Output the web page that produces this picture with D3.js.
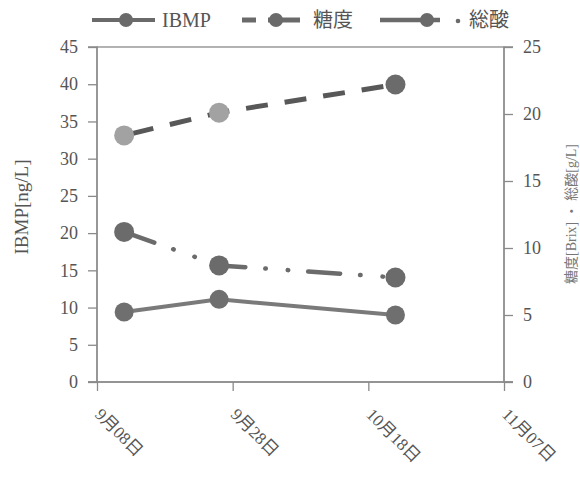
<!DOCTYPE html>
<html><head><meta charset="utf-8">
<script src="https://cdn.jsdelivr.net/npm/d3@7"></script>
<style>body{margin:0;background:#fff}</style>
</head><body>
<script>
const dates = ["2023-09-12","2023-09-26","2023-10-22"];
const ibmp = [9.4, 11.1, 9.0];
const brix = [18.4, 20.1, 22.2];
const acid = [11.2, 8.7, 7.8];
const xTicks = ["2023-09-08","2023-09-28","2023-10-18","2023-11-07"];
const xTickLabels = ["9月08日","9月28日","10月18日","11月07日"];
const leftTicks = [0,5,10,15,20,25,30,35,40,45];
const rightTicks = [0,5,10,15,20,25];
const seriesNames = ["IBMP","糖度","総酸"];

const W=580,H=488;
const svg=d3.select("body").append("svg").attr("width",W).attr("height",H);
const L=97,R=504,T=47,B=382;
const parse=d3.timeParse("%Y-%m-%d");
const x=d3.scaleTime().domain([parse(xTicks[0]),parse(xTicks[3])]).range([L,R]);
const yL=d3.scaleLinear().domain([0,45]).range([B,T]);
const yR=d3.scaleLinear().domain([0,25]).range([B,T]);
const serif="'Liberation Serif','DejaVu Serif','Noto Sans CJK JP',serif";
const axisCol="#8a8a8a", txtCol="#555";

svg.append("rect").attr("x",L).attr("y",T).attr("width",R-L).attr("height",B-T)
  .attr("fill","none").attr("stroke",axisCol).attr("stroke-width",1.3);

const gl=svg.append("g").attr("transform",`translate(${L},0)`)
  .call(d3.axisLeft(yL).tickValues(leftTicks).tickSize(9).tickPadding(10));
const gr=svg.append("g").attr("transform",`translate(${R},0)`)
  .call(d3.axisRight(yR).tickValues(rightTicks).tickSize(9).tickPadding(10));
const gb=svg.append("g").attr("transform",`translate(0,${B})`)
  .call(d3.axisBottom(x).tickValues(xTicks.map(parse)).tickSize(9).tickFormat((d,i)=>xTickLabels[i]));
[gl,gr,gb].forEach(g=>{
  g.select(".domain").attr("stroke",axisCol).attr("stroke-width",1.3);
  g.selectAll(".tick line").attr("stroke",axisCol).attr("stroke-width",1.3);
  g.selectAll("text").attr("fill",txtCol).style("font-family",serif).style("font-size","18px");
});
gb.selectAll(".tick text").attr("text-anchor","start").attr("dy",0)
  .attr("transform","translate(5,25) rotate(45)").style("font-size","17px");
gl.select(".domain").attr("d",`M-9,${B}H0V${T}H-9`);
gr.select(".domain").attr("d",`M9,${B}H0V${T}H9`);
gb.select(".domain").attr("d",`M${L-9},0H${R+9}`);

svg.append("text").attr("transform","translate(28,207) rotate(-90)").attr("text-anchor","middle")
  .attr("fill",txtCol).style("font-family",serif).style("font-size","19px").text("IBMP[ng/L]");
svg.append("text").attr("transform","translate(576,214) rotate(-90)").attr("text-anchor","middle")
  .attr("fill","#777").style("font-family",serif).style("font-size","14px").text("糖度[Brix] ・ 総酸[g/L]");

const pts=(vals,ys)=>vals.map((v,i)=>[x(parse(dates[i])),ys(v)]);
const line=d3.line();

const pI=pts(ibmp,yL);
svg.append("path").attr("d",line(pI)).attr("fill","none").attr("stroke","#7a7a7a").attr("stroke-width",4);
svg.selectAll(".mi").data(pI).join("circle").attr("cx",d=>d[0]).attr("cy",d=>d[1]).attr("r",9.5).attr("fill","#6f6f6f");

const pB=pts(brix,yR);
svg.append("path").attr("d",line(pB)).attr("fill","none").attr("stroke","#585858").attr("stroke-width",5)
  .attr("stroke-dasharray","22,17").attr("stroke-dashoffset",-8);
const bcol=["#a2a2a2","#a2a2a2","#6b6b6b"];
svg.selectAll(".mb").data(pB).join("circle").attr("cx",d=>d[0]).attr("cy",d=>d[1]).attr("r",10).attr("fill",(d,i)=>bcol[i]);

const pA=pts(acid,yR);
svg.append("path").attr("d",line(pA)).attr("fill","none").attr("stroke","#6b6b6b").attr("stroke-width",4.5)
  .attr("stroke-linecap","round").attr("stroke-dasharray","32,20,0.5,22,0.5,20");
svg.selectAll(".ma").data(pA).join("circle").attr("cx",d=>d[0]).attr("cy",d=>d[1]).attr("r",10).attr("fill","#6b6b6b");

const lg=svg.append("g");
const ly=20;
lg.append("line").attr("x1",92).attr("x2",155).attr("y1",ly).attr("y2",ly).attr("stroke","#6a6a6a").attr("stroke-width",4);
lg.append("circle").attr("cx",126).attr("cy",ly).attr("r",7).attr("fill","#6a6a6a");
lg.append("text").attr("x",162).attr("y",ly+7).text(seriesNames[0]);
lg.append("line").attr("x1",242).attr("x2",256).attr("y1",ly).attr("y2",ly).attr("stroke","#6a6a6a").attr("stroke-width",5);
lg.append("line").attr("x1",268).attr("x2",300).attr("y1",ly).attr("y2",ly).attr("stroke","#6a6a6a").attr("stroke-width",5);
lg.append("circle").attr("cx",276).attr("cy",ly).attr("r",7).attr("fill","#6a6a6a");
lg.append("text").attr("x",313).attr("y",ly+7).text(seriesNames[1]);
lg.append("line").attr("x1",380).attr("x2",440).attr("y1",ly).attr("y2",ly).attr("stroke","#6a6a6a").attr("stroke-width",4.5);
lg.append("circle").attr("cx",427).attr("cy",ly).attr("r",7).attr("fill","#6a6a6a");
lg.append("circle").attr("cx",458).attr("cy",ly+1).attr("r",2.3).attr("fill","#6a6a6a");
lg.append("text").attr("x",469).attr("y",ly+7).text(seriesNames[2]);
lg.selectAll("text").attr("fill",txtCol).style("font-family",serif).style("font-size","20px");
</script>
</body></html>
